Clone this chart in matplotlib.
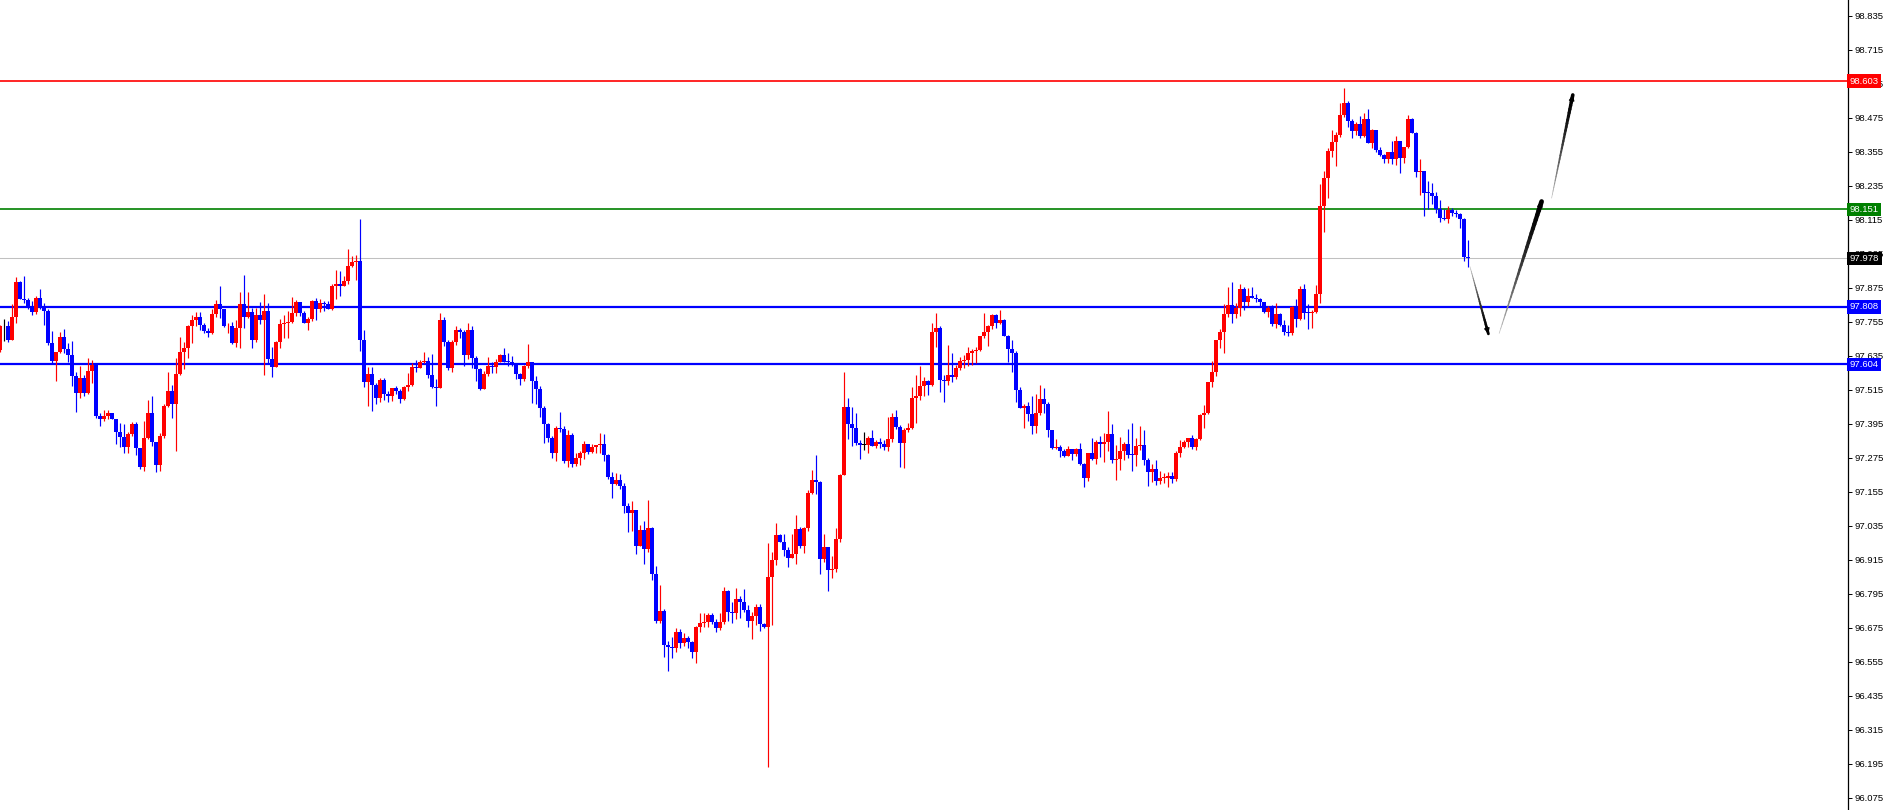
import numpy as np
import matplotlib
matplotlib.use("Agg")
import matplotlib.pyplot as plt

plt.rcParams["font.family"] = ["Liberation Sans", "DejaVu Sans"]

# candle data (H1 bars), open of each bar = previous close
first_open = 97.655

closes = [
    # part 1
    97.738, 97.738, 97.691, 97.772, 97.895, 97.835, 97.832, 97.808, 97.788, 97.838,
    97.805, 97.794, 97.681, 97.618, 97.647, 97.700, 97.658, 97.638, 97.564, 97.505,
    97.558, 97.502, 97.581, 97.602, 97.422, 97.412, 97.422, 97.432, 97.412, 97.367,
    97.349, 97.314, 97.359, 97.394, 97.311, 97.241, 97.344, 97.432, 97.332, 97.251,
    97.352, 97.458, 97.511, 97.465, 97.571, 97.647, 97.662, 97.740, 97.761, 97.773,
    97.744, 97.722, 97.714, 97.782,
    # part 2
    97.818, 97.800, 97.738, 97.741, 97.681, 97.732, 97.818, 97.773, 97.788, 97.691,
    97.779, 97.761, 97.791, 97.623, 97.596, 97.682, 97.747, 97.752, 97.755, 97.787,
    97.826, 97.785, 97.752, 97.763, 97.829, 97.799, 97.820, 97.818, 97.799, 97.882,
    97.888, 97.882, 97.899, 97.952, 97.965, 97.969, 97.691, 97.543, 97.571, 97.532,
    97.487, 97.549, 97.500, 97.493, 97.520, 97.512, 97.482, 97.523, 97.532, 97.596,
    97.591, 97.614, 97.616, 97.567,
    # part 3
    97.526, 97.522, 97.761, 97.685, 97.593, 97.682, 97.726, 97.720, 97.638, 97.726,
    97.628, 97.588, 97.518, 97.571, 97.600, 97.594, 97.614, 97.638, 97.614, 97.611,
    97.605, 97.570, 97.552, 97.600, 97.612, 97.544, 97.518, 97.452, 97.394, 97.346,
    97.293, 97.379, 97.377, 97.265, 97.355, 97.253, 97.273, 97.291, 97.322, 97.294,
    97.312, 97.320, 97.322, 97.285, 97.208, 97.181, 97.197, 97.175, 97.106, 97.079,
    97.091, 96.965, 97.020, 96.952,
    # part 4
    97.026, 96.865, 96.699, 96.735, 96.614, 96.608, 96.605, 96.659, 96.620, 96.640,
    96.626, 96.591, 96.677, 96.691, 96.697, 96.720, 96.697, 96.673, 96.697, 96.805,
    96.732, 96.726, 96.775, 96.765, 96.738, 96.700, 96.718, 96.747, 96.688, 96.679,
    96.855, 96.914, 97.002, 96.979, 96.950, 96.922, 96.935, 97.024, 96.965, 97.028,
    97.150, 97.197, 97.191, 96.918, 96.961, 96.879, 96.881, 96.988, 97.214, 97.455,
    97.394, 97.381, 97.326, 97.320,
    # part 5
    97.320, 97.346, 97.318, 97.330, 97.324, 97.314, 97.341, 97.420, 97.385, 97.328,
    97.373, 97.381, 97.487, 97.493, 97.528, 97.544, 97.530, 97.717, 97.734, 97.550,
    97.544, 97.567, 97.561, 97.591, 97.617, 97.620, 97.646, 97.650, 97.656, 97.703,
    97.717, 97.738, 97.779, 97.752, 97.761, 97.706, 97.658, 97.644, 97.514, 97.452,
    97.456, 97.428, 97.388, 97.432, 97.481, 97.464, 97.373, 97.311, 97.314, 97.297,
    97.281, 97.306, 97.287,
    # part 6
    97.306, 97.253, 97.203, 97.291, 97.271, 97.332, 97.324, 97.330, 97.359, 97.267,
    97.271, 97.299, 97.324, 97.285, 97.283, 97.318, 97.320, 97.267, 97.226, 97.236,
    97.194, 97.203, 97.205, 97.209, 97.199, 97.293, 97.314, 97.332, 97.344, 97.312,
    97.340, 97.426, 97.434, 97.542, 97.579, 97.689, 97.717, 97.783, 97.814, 97.783,
    97.803, 97.871, 97.823, 97.846, 97.838, 97.836, 97.824, 97.789, 97.803, 97.746,
    97.782, 97.744, 97.717, 97.714,
    # part 7
    97.808, 97.763, 97.870, 97.787, 97.784, 97.790, 97.852, 98.163, 98.261, 98.357,
    98.390, 98.414, 98.484, 98.526, 98.464, 98.429, 98.453, 98.410, 98.469, 98.387,
    98.432, 98.359, 98.343, 98.328, 98.353, 98.328, 98.393, 98.334, 98.370, 98.469,
    98.420, 98.284, 98.288, 98.210, 98.209, 98.200, 98.153, 98.120, 98.116, 98.149,
    98.137, 98.135, 98.116, 97.984, 97.978,
]

highs = [
    97.744, 97.764, 97.758, 97.818, 97.914, 97.899, 97.917, 97.840, 97.828, 97.844,
    97.871, 97.820, 97.799, 97.722, 97.647, 97.720, 97.728, 97.679, 97.687, 97.579,
    97.599, 97.567, 97.626, 97.620, 97.600, 97.434, 97.444, 97.444, 97.434, 97.412,
    97.397, 97.394, 97.365, 97.400, 97.400, 97.311, 97.406, 97.479, 97.493, 97.332,
    97.361, 97.465, 97.579, 97.532, 97.626, 97.700, 97.682, 97.744, 97.779, 97.788,
    97.789, 97.752, 97.732, 97.799,
    97.832, 97.881, 97.800, 97.749, 97.755, 97.761, 97.859, 97.920, 97.858, 97.805,
    97.805, 97.823, 97.853, 97.820, 97.667, 97.687, 97.763, 97.779, 97.793, 97.841,
    97.832, 97.822, 97.791, 97.773, 97.832, 97.838, 97.835, 97.829, 97.829, 97.887,
    97.938, 97.934, 97.916, 98.012, 97.987, 97.991, 98.118, 97.726, 97.596, 97.596,
    97.538, 97.555, 97.555, 97.511, 97.522, 97.528, 97.516, 97.529, 97.575, 97.608,
    97.620, 97.620, 97.649, 97.632,
    97.641, 97.553, 97.785, 97.773, 97.691, 97.691, 97.738, 97.732, 97.726, 97.750,
    97.738, 97.634, 97.593, 97.581, 97.630, 97.612, 97.624, 97.641, 97.661, 97.644,
    97.634, 97.608, 97.575, 97.602, 97.677, 97.614, 97.564, 97.528, 97.458, 97.397,
    97.350, 97.387, 97.435, 97.387, 97.373, 97.361, 97.291, 97.297, 97.334, 97.320,
    97.322, 97.320, 97.361, 97.359, 97.288, 97.226, 97.220, 97.218, 97.185, 97.114,
    97.122, 97.091, 97.038, 97.053,
    97.126, 97.032, 96.893, 96.826, 96.740, 96.628, 96.644, 96.673, 96.670, 96.655,
    96.646, 96.628, 96.681, 96.726, 96.726, 96.726, 96.726, 96.706, 96.726, 96.818,
    96.808, 96.765, 96.814, 96.787, 96.811, 96.755, 96.732, 96.758, 96.758, 96.693,
    96.975, 96.944, 97.044, 97.006, 97.006, 96.961, 97.006, 97.073, 97.030, 97.030,
    97.161, 97.232, 97.285, 97.193, 97.006, 96.961, 96.928, 97.026, 97.218, 97.579,
    97.487, 97.453, 97.432, 97.338,
    97.365, 97.350, 97.373, 97.336, 97.346, 97.336, 97.420, 97.434, 97.444, 97.391,
    97.379, 97.397, 97.524, 97.567, 97.600, 97.561, 97.550, 97.750, 97.787, 97.738,
    97.567, 97.671, 97.646, 97.603, 97.630, 97.638, 97.665, 97.660, 97.665, 97.705,
    97.785, 97.744, 97.781, 97.782, 97.797, 97.764, 97.708, 97.691, 97.650, 97.523,
    97.464, 97.473, 97.491, 97.499, 97.532, 97.520, 97.471, 97.373, 97.340, 97.320,
    97.305, 97.318, 97.303,
    97.309, 97.326, 97.256, 97.293, 97.344, 97.338, 97.352, 97.362, 97.440, 97.394,
    97.320, 97.347, 97.332, 97.377, 97.397, 97.344, 97.387, 97.373, 97.273, 97.253,
    97.267, 97.229, 97.220, 97.226, 97.224, 97.297, 97.336, 97.338, 97.346, 97.356,
    97.344, 97.430, 97.462, 97.542, 97.618, 97.691, 97.729, 97.817, 97.876, 97.894,
    97.820, 97.889, 97.876, 97.873, 97.879, 97.853, 97.838, 97.824, 97.809, 97.814,
    97.820, 97.785, 97.762, 97.744,
    97.810, 97.835, 97.882, 97.888, 97.817, 97.796, 97.884, 98.241, 98.288, 98.367,
    98.432, 98.423, 98.528, 98.579, 98.532, 98.470, 98.459, 98.479, 98.490, 98.504,
    98.434, 98.432, 98.373, 98.347, 98.355, 98.393, 98.410, 98.393, 98.373, 98.484,
    98.473, 98.426, 98.328, 98.288, 98.252, 98.246, 98.212, 98.184, 98.153, 98.163,
    98.157, 98.149, 98.137, 98.120, 98.043,
]

lows = [
    97.649, 97.688, 97.685, 97.734, 97.752, 97.834, 97.822, 97.800, 97.777, 97.781,
    97.799, 97.745, 97.673, 97.608, 97.547, 97.646, 97.644, 97.611, 97.528, 97.438,
    97.485, 97.493, 97.500, 97.540, 97.414, 97.388, 97.405, 97.411, 97.411, 97.324,
    97.314, 97.293, 97.293, 97.352, 97.285, 97.234, 97.229, 97.341, 97.317, 97.224,
    97.229, 97.346, 97.455, 97.414, 97.297, 97.567, 97.587, 97.628, 97.679, 97.738,
    97.726, 97.714, 97.702, 97.712,
    97.773, 97.769, 97.736, 97.714, 97.676, 97.667, 97.663, 97.734, 97.767, 97.663,
    97.682, 97.746, 97.567, 97.608, 97.561, 97.594, 97.663, 97.699, 97.696, 97.749,
    97.775, 97.776, 97.752, 97.726, 97.758, 97.761, 97.788, 97.791, 97.799, 97.796,
    97.835, 97.847, 97.882, 97.888, 97.949, 97.902, 97.653, 97.526, 97.458, 97.440,
    97.463, 97.473, 97.479, 97.473, 97.475, 97.500, 97.467, 97.479, 97.512, 97.528,
    97.579, 97.593, 97.608, 97.558,
    97.522, 97.458, 97.520, 97.670, 97.585, 97.579, 97.671, 97.697, 97.597, 97.622,
    97.591, 97.547, 97.514, 97.517, 97.565, 97.575, 97.575, 97.612, 97.612, 97.599,
    97.597, 97.552, 97.532, 97.546, 97.593, 97.467, 97.464, 97.417, 97.328, 97.332,
    97.275, 97.265, 97.365, 97.258, 97.244, 97.244, 97.247, 97.250, 97.270, 97.288,
    97.293, 97.293, 97.293, 97.265, 97.200, 97.132, 97.179, 97.166, 97.079, 97.012,
    97.018, 96.934, 96.964, 96.899,
    96.941, 96.844, 96.693, 96.693, 96.573, 96.524, 96.570, 96.591, 96.605, 96.612,
    96.605, 96.570, 96.552, 96.661, 96.679, 96.679, 96.688, 96.659, 96.667, 96.687,
    96.699, 96.693, 96.706, 96.711, 96.732, 96.679, 96.635, 96.685, 96.665, 96.673,
    96.185, 96.685, 96.897, 96.979, 96.928, 96.891, 96.920, 96.900, 96.958, 96.940,
    97.017, 97.146, 97.147, 96.865, 96.908, 96.806, 96.852, 96.873, 96.979, 97.214,
    97.341, 97.318, 97.320, 97.270,
    97.303, 97.293, 97.318, 97.311, 97.308, 97.303, 97.300, 97.332, 97.377, 97.244,
    97.240, 97.367, 97.377, 97.399, 97.479, 97.491, 97.497, 97.528, 97.665, 97.508,
    97.473, 97.532, 97.541, 97.552, 97.585, 97.591, 97.599, 97.603, 97.608, 97.650,
    97.697, 97.670, 97.728, 97.734, 97.747, 97.703, 97.614, 97.579, 97.473, 97.450,
    97.381, 97.403, 97.359, 97.361, 97.426, 97.432, 97.347, 97.306, 97.306, 97.279,
    97.279, 97.281, 97.267,
    97.282, 97.250, 97.171, 97.194, 97.267, 97.253, 97.279, 97.259, 97.297, 97.256,
    97.197, 97.232, 97.267, 97.273, 97.229, 97.247, 97.303, 97.250, 97.176, 97.191,
    97.179, 97.182, 97.185, 97.173, 97.185, 97.194, 97.279, 97.309, 97.314, 97.306,
    97.303, 97.336, 97.379, 97.430, 97.524, 97.564, 97.662, 97.646, 97.773, 97.752,
    97.767, 97.776, 97.797, 97.809, 97.838, 97.826, 97.812, 97.785, 97.773, 97.738,
    97.732, 97.738, 97.709, 97.706,
    97.708, 97.737, 97.761, 97.763, 97.728, 97.734, 97.784, 97.820, 98.073, 98.190,
    98.335, 98.304, 98.406, 98.476, 98.443, 98.404, 98.414, 98.402, 98.406, 98.384,
    98.369, 98.355, 98.340, 98.316, 98.314, 98.310, 98.308, 98.279, 98.316, 98.367,
    98.420, 98.267, 98.202, 98.129, 98.152, 98.170, 98.137, 98.106, 98.112, 98.104,
    98.129, 98.126, 98.084, 97.969, 97.947,
]

# horizontal levels drawn on the chart
levels = [98.603, 98.151, 97.978, 97.808, 97.604]
level_colors = ["#ff0000", "#008000", "#c0c0c0", "#0000ff", "#0000ff"]
label_colors = ["#ff0000", "#008000", "#000000", "#0000ff", "#0000ff"]
level_lw = [1.2, 1.2, 0.75, 1.6, 1.6]

price_ticks = np.round(np.arange(96.075, 98.84, 0.12), 3)

# hand drawn forecast arrows: (start bar, start price), (end bar, end price), width
arrows = [
    ((367.5, 97.949), (372.1, 97.712), 1.6),
    ((374.8, 97.714), (385.4, 98.179), 3.0),
    ((387.9, 98.191), (393.2, 98.555), 2.2),
]


def draw_candles(ax, o, h, l, c):
    x = np.arange(len(c))
    col = np.where(c > o, "#ff0000", np.where(c < o, "#0000ff", "#000000"))
    hi = np.maximum(h, np.maximum(o, c))
    lo = np.minimum(l, np.minimum(o, c))
    ax.vlines(x, lo, hi, colors=col, lw=0.85, zorder=3)
    bottom = np.minimum(o, c)
    height = np.maximum(np.abs(c - o), 0.0035)
    ax.bar(x, height, width=0.8, bottom=bottom, color=col, linewidth=0, zorder=4)


def draw_arrow(ax, start, end, w):
    t = np.linspace(0, 1, 30)
    xs = start[0] + (end[0] - start[0]) * t
    ys = start[1] + (end[1] - start[1]) * t
    for i in range(len(t) - 1):
        f = t[i + 1]
        g = 0.8 * (1 - f) ** 1.6
        ax.plot(xs[i:i + 2], ys[i:i + 2], color=(g, g, g), lw=0.4 + w * f,
                solid_capstyle="round", zorder=6)
    ax.annotate("", xy=end, xytext=(xs[-4], ys[-4]),
                arrowprops=dict(arrowstyle="-|>", color="black", lw=0.9,
                                mutation_scale=8, shrinkA=0, shrinkB=0),
                zorder=7)


c = np.array(closes)
o = np.r_[first_open, c[:-1]]
h = np.array(highs)
l = np.array(lows)

fig = plt.figure(figsize=(18.85, 8.10), dpi=100)
ax = fig.add_axes([0, 0, 1848 / 1885, 1])

for lv, lc, lw in zip(levels, level_colors, level_lw):
    ax.axhline(lv, color=lc, lw=lw, zorder=2)

draw_candles(ax, o, h, l, c)
for s, e, w in arrows:
    draw_arrow(ax, s, e, w)

ax.set_xlim(0, 462)
ax.set_ylim(96.032, 98.890)

for sp in ["top", "left", "bottom"]:
    ax.spines[sp].set_visible(False)
ax.spines["right"].set_color("black")
ax.spines["right"].set_linewidth(0.9)
ax.set_xticks([])
ax.yaxis.tick_right()
ax.set_yticks(price_ticks)
ax.set_yticklabels([f"{p:.3f}" for p in price_ticks])
ax.tick_params(axis="y", length=3, width=0.7, pad=1.5, labelsize=6.8, colors="black")

tr = ax.get_yaxis_transform()
for lv, bc in zip(levels, label_colors):
    ax.annotate(f"{lv:.3f}", xy=(1, lv), xycoords=tr, xytext=(1.3, 0),
                textcoords="offset points", ha="left", va="center",
                fontsize=6.8, color="white", annotation_clip=False, zorder=10,
                bbox=dict(boxstyle="square,pad=0.25", fc=bc, ec="none"))

fig.savefig("out.png", dpi=100, facecolor="white")
